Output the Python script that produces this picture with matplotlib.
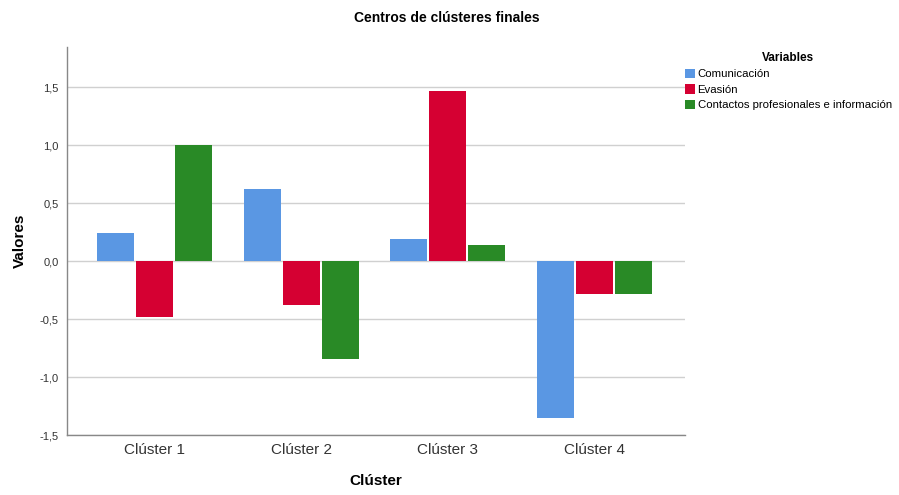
import matplotlib
matplotlib.use("Agg")
import matplotlib.pyplot as plt
import numpy as np

plt.rcParams['font.family'] = ['Liberation Sans', 'DejaVu Sans']

clusters = ["Clúster 1", "Clúster 2", "Clúster 3", "Clúster 4"]
series_names = ["Comunicación", "Evasión", "Contactos profesionales e información"]
comunicacion = [0.24, 0.62, 0.19, -1.35]
evasion = [-0.48, -0.38, 1.47, -0.28]
contactos = [1.00, -0.84, 0.135, -0.285]
colors = ["#5a97e3", "#d50032", "#298a26"]
yticks = [-1.5, -1.0, -0.5, 0.0, 0.5, 1.0, 1.5]
ytick_labels = ["-1,5", "-1,0", "-0,5", "0,0", "0,5", "1,0", "1,5"]

fig = plt.figure(figsize=(8.99, 4.95), dpi=100)
ax = fig.add_axes([0.0745, 0.121, 0.6875, 0.784])

x = np.arange(len(clusters))
w = 0.253
step = 0.267
for i, (vals, name, c) in enumerate(zip([comunicacion, evasion, contactos], series_names, colors)):
    ax.bar(x + (i - 1) * step, vals, width=w, color=c, label=name, zorder=3)

ax.set_xlim(-0.6, 3.62)
ax.set_ylim(-1.5, 1.845)
ax.set_yticks(yticks)
ax.set_yticklabels(ytick_labels, fontsize=8, color="#333333")
ax.set_xticks(x)
ax.set_xticklabels(clusters, fontsize=11, color="#333333")
ax.tick_params(axis='both', length=0, pad=6)
ax.grid(axis='y', color="#d0d0d0", linewidth=1.0, zorder=0)
for s in ['top', 'right']:
    ax.spines[s].set_visible(False)
for s in ['left', 'bottom']:
    ax.spines[s].set_color("#888888")
    ax.spines[s].set_linewidth(1.0)

ax.set_xlabel("Clúster", fontsize=11, fontweight='bold', labelpad=12)
ax.set_ylabel("Valores", fontsize=11, fontweight='bold', labelpad=9)
fig.text(0.497, 0.963, "Centros de clústeres finales", ha='center', va='center',
         fontsize=10, fontweight='bold')

leg = fig.legend(loc='upper left', bbox_to_anchor=(0.762, 0.895), frameon=False,
                 fontsize=8.2, title="Variables", title_fontproperties={'weight': 'bold', 'size': 8.5},
                 handlelength=0.9, handleheight=0.9, handletextpad=0.2, labelspacing=0.42,
                 borderaxespad=0, borderpad=0)
leg._legend_box.align = "center"

fig.savefig("out.png", dpi=100)
